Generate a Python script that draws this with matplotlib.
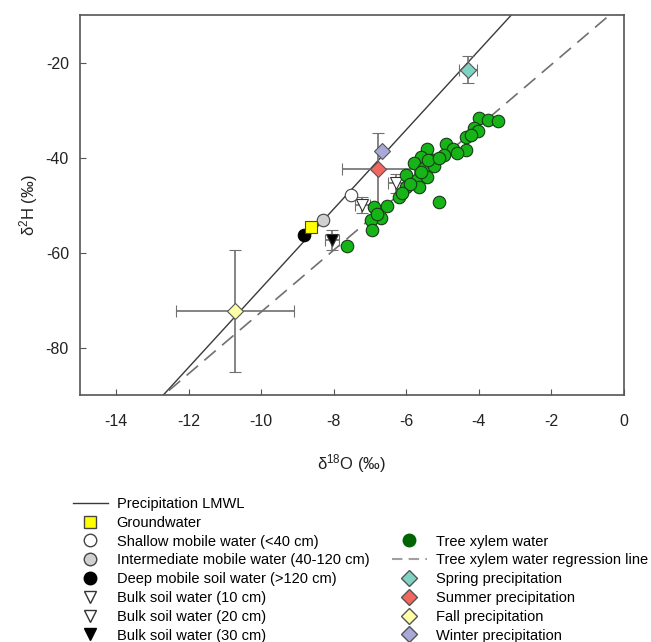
import matplotlib
matplotlib.use('Agg')
import numpy as np
from matplotlib import pyplot as plt
from matplotlib.lines import Line2D

plt.rcParams['font.family'] = ['Liberation Sans', 'DejaVu Sans']
plt.rcParams['mathtext.default'] = 'regular'
plt.rcParams['axes.unicode_minus'] = False

# tree xylem water samples
xylem_d18o = [-3.98, -3.75, -3.47, -4.14, -4.02, -4.35, -4.90, -4.72, -4.35, -5.41,
              -5.60, -4.95, -5.27, -5.78, -5.50, -5.23, -6.01, -5.69, -5.41, -6.01,
              -5.64, -6.20, -6.52, -6.89, -6.70, -6.98, -6.93, -5.09, -7.63, -5.40,
              -5.10, -4.20, -5.90, -6.10, -5.60, -4.60, -6.80]
xylem_d2h = [-31.7, -32.0, -32.4, -33.8, -34.5, -35.6, -37.1, -38.2, -38.4, -38.2,
             -39.8, -39.4, -40.5, -41.2, -42.2, -41.8, -43.7, -44.7, -44.0, -46.3,
             -46.3, -48.4, -50.2, -50.5, -52.8, -53.2, -55.3, -49.3, -58.7, -40.5,
             -40.0, -35.2, -45.5, -47.5, -43.0, -39.0, -51.8]

# lines (slope, intercept)
lmwl = (8.33, 15.8)
xylem_reg = (6.5, -7.5)

# seasonal precipitation: d18O, d2H, sd18O, sd2H
seasons = ['Spring precipitation', 'Summer precipitation', 'Fall precipitation', 'Winter precipitation']
season_d18o = [-4.30, -6.77, -10.72, -6.66]
season_d2h = [-21.5, -42.5, -72.3, -38.7]
season_sx = [0.25, 1.0, 1.62, 0.0]
season_sy = [2.9, 7.6, 12.8, 0.0]
season_colors = ['#7fd3c3', '#f2675f', '#ffffa6', '#a9a9d9']

# mobile / bulk soil water and groundwater
gw = (-8.62, -54.6)
shallow = (-7.53, -47.9)
intermediate = (-8.29, -53.2)
deep = (-8.83, -56.3)
bulk_d18o = [-6.29, -7.21, -8.04]
bulk_d2h = [-45.4, -50.0, -57.4]
bulk_sx = [0.2, 0.2, 0.2]
bulk_sy = [2.0, 1.6, 2.1]


def main():
    fig = plt.figure(figsize=(6.51, 6.42), dpi=100)
    ax = fig.add_axes([0.1229, 0.3847, 0.8349, 0.5919])

    xs = np.array([-15, 0])
    ax.plot(xs, lmwl[0] * xs + lmwl[1], color='#3a3a3a', lw=1.0, zorder=2)
    ax.plot(xs, xylem_reg[0] * xs + xylem_reg[1], color='#707070', lw=1.2,
            dashes=(9, 5), zorder=2)

    ebkw = dict(ecolor='#707070', elinewidth=1.2, capsize=4, capthick=1.2)

    for x, y, sx, sy, c in zip(season_d18o, season_d2h, season_sx, season_sy, season_colors):
        ax.errorbar(x, y, xerr=sx, yerr=sy, fmt='D', ms=8, mfc=c, mec='#555555',
                    mew=0.8, zorder=3, **ebkw)

    for x, y, sx, sy, c in zip(bulk_d18o, bulk_d2h, bulk_sx, bulk_sy, ['white', 'white', 'black']):
        ax.errorbar(x, y, xerr=sx, yerr=sy, fmt='v', ms=8, mfc=c, mec='#333333',
                    mew=0.8, zorder=3, **ebkw)

    ax.plot(*shallow, 'o', ms=9, mfc='white', mec='#444444', mew=0.8, zorder=4)
    ax.plot(*intermediate, 'o', ms=9, mfc='#d0d0d0', mec='#444444', mew=0.8, zorder=4)
    ax.plot(*deep, 'o', ms=9, mfc='black', mec='black', mew=0.8, zorder=4)
    ax.plot(*gw, 's', ms=8, mfc='#ffff00', mec='#444444', mew=0.8, zorder=4)

    ax.plot(xylem_d18o, xylem_d2h, 'o', ms=9, mfc='#16b416', mec='#1a3a1a',
            mew=0.8, ls='none', zorder=5)

    ax.set_xlim(-15, 0)
    ax.set_ylim(-90, -10)
    ax.set_xticks(range(-14, 1, 2))
    ax.set_yticks([-20, -40, -60, -80])
    ax.tick_params(direction='in', length=4, color='#555555', labelsize=11.5,
                   labelcolor='#222222')
    ax.tick_params(axis='x', pad=14)
    ax.tick_params(axis='y', pad=8)
    for s in ax.spines.values():
        s.set_color('#555555')
        s.set_linewidth(1.2)
    ax.set_xlabel('δ$^{18}$O (‰)', fontsize=12, labelpad=16, color='#222222')
    ax.set_ylabel('δ$^{2}$H (‰)', fontsize=12, labelpad=4, color='#222222')

    blank = Line2D([], [], ls='none')
    handles = [
        Line2D([], [], color='#3a3a3a', lw=1.0),
        Line2D([], [], marker='s', ls='none', ms=8, mfc='#ffff00', mec='#444444'),
        Line2D([], [], marker='o', ls='none', ms=9, mfc='white', mec='#444444'),
        Line2D([], [], marker='o', ls='none', ms=9, mfc='#d0d0d0', mec='#444444'),
        Line2D([], [], marker='o', ls='none', ms=9, mfc='black', mec='black'),
        Line2D([], [], marker='v', ls='none', ms=8, mfc='white', mec='#333333'),
        Line2D([], [], marker='v', ls='none', ms=8, mfc='white', mec='#333333'),
        Line2D([], [], marker='v', ls='none', ms=8, mfc='black', mec='black'),
        blank, blank,
        Line2D([], [], marker='o', ls='none', ms=9, mfc='#006400', mec='#006400'),
        Line2D([], [], color='#a0a0a0', lw=1.5, dashes=(5, 3)),
    ]
    labels = ['Precipitation LMWL', 'Groundwater', 'Shallow mobile water (<40 cm)',
              'Intermediate mobile water (40-120 cm)', 'Deep mobile soil water (>120 cm)',
              'Bulk soil water (10 cm)', 'Bulk soil water (20 cm)', 'Bulk soil water (30 cm)',
              '', '', 'Tree xylem water', 'Tree xylem water regression line']
    for c, name in zip(season_colors, seasons):
        handles.append(Line2D([], [], marker='D', ls='none', ms=8, mfc=c, mec='#555555'))
        labels.append(name)

    fig.legend(handles, labels, loc='upper left', bbox_to_anchor=(0.112, 0.226),
               ncol=2, frameon=False, fontsize=10.5, handlelength=2.4,
               handletextpad=0.6, columnspacing=1.55, labelspacing=0.33,
               borderaxespad=0, borderpad=0)

    fig.savefig('out.png', dpi=100)


if __name__ == '__main__':
    main()
